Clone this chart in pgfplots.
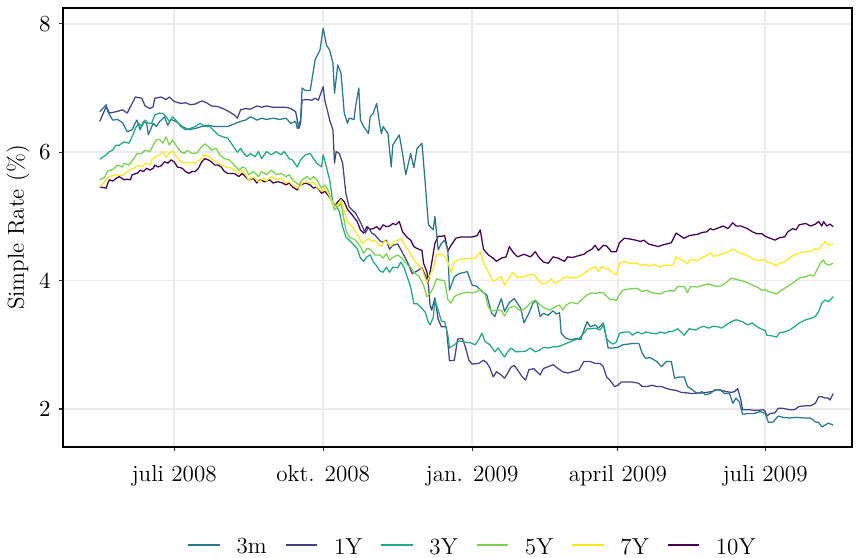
\documentclass[border=0pt]{standalone}
\usepackage{pgfplots}
\pgfplotsset{compat=1.18}
\usepackage{pgfplotstable}

% viridis palette, one colour per maturity
\definecolor{cTenY}{HTML}{440154}
\definecolor{cOneY}{HTML}{414487}
\definecolor{cThreeM}{HTML}{2A788E}
\definecolor{cThreeY}{HTML}{22A884}
\definecolor{cFiveY}{HTML}{7AD151}
\definecolor{cSevenY}{HTML}{FDE725}

% day = days since 1 July 2008, rate in percent
\pgfplotstableread{
day rate
-46 6.63
-42 6.74
-41 6.63
-38 6.50
-35 6.51
-32 6.46
-29 6.32
-26 6.35
-24 6.46
-23 6.50
-21 6.35
-19 6.48
-17 6.45
-16 6.27
-13 6.45
-11 6.40
-9 6.48
-6 6.55
-4 6.42
-2 6.51
1 6.48
5 6.40
9 6.35
13 6.37
17 6.40
21 6.42
25 6.40
29 6.40
33 6.40
37 6.44
41 6.48
44 6.50
47 6.55
49 6.53
51 6.50
54 6.53
57 6.51
61 6.53
65 6.51
69 6.53
72 6.45
75 6.48
76 6.37
78 6.50
79 7.00
81 6.96
84 6.96
87 7.44
90 7.59
92 7.93
94 7.67
96 7.59
98 7.39
99 6.92
101 7.36
103 7.23
105 6.61
107 6.45
108 6.53
111 6.51
112 6.71
114 7.00
115 6.50
117 6.40
120 6.29
121 6.55
123 6.61
125 6.76
127 6.42
128 6.29
129 6.40
132 6.29
134 5.77
135 6.11
139 6.27
141 5.98
143 5.65
146 5.98
148 5.76
150 6.06
153 6.14
155 5.52
157 4.87
160 4.79
161 5.00
163 4.48
165 4.58
167 4.63
169 4.48
170 3.85
173 4.06
176 4.11
181 4.14
184 3.93
187 3.91
190 3.83
193 3.78
196 3.49
198 3.44
200 3.59
202 3.72
204 3.52
207 3.66
210 3.72
214 3.57
216 3.34
219 3.49
222 3.67
224 3.67
226 3.44
228 3.49
231 3.46
234 3.53
236 3.48
238 3.50
239 3.18
242 3.10
245 3.08
249 3.10
251 3.08
253 3.23
255 3.36
257 3.28
260 3.31
262 3.26
265 3.34
266 3.23
268 2.95
271 2.95
274 2.96
277 3.00
280 3.01
283 3.02
287 3.02
289 2.87
291 2.79
294 2.80
298 2.74
301 2.66
304 2.74
307 2.74
309 2.48
312 2.50
315 2.50
317 2.35
320 2.30
323 2.24
326 2.27
328 2.22
331 2.24
334 2.30
337 2.30
340 2.24
343 2.24
345 2.09
347 2.17
349 2.11
351 1.92
355 1.93
358 1.93
362 1.96
365 1.93
367 1.79
370 1.80
373 1.89
376 1.87
380 1.86
384 1.87
389 1.86
393 1.86
396 1.80
398 1.79
400 1.72
402 1.75
404 1.78
407 1.75
}\rateThreeM

\pgfplotstableread{
day rate
-46 6.48
-42 6.71
-40 6.61
-36 6.63
-32 6.66
-29 6.61
-26 6.76
-24 6.86
-20 6.84
-18 6.72
-15 6.68
-13 6.71
-12 6.84
-8 6.86
-5 6.82
-3 6.86
0 6.79
4 6.76
7 6.77
10 6.74
13 6.75
17 6.80
20 6.77
23 6.72
27 6.71
31 6.67
34 6.63
37 6.58
39 6.53
41 6.66
44 6.68
47 6.67
51 6.72
54 6.70
57 6.72
61 6.70
65 6.70
69 6.70
72 6.68
75 6.63
77 6.37
78 6.45
79 6.81
82 6.82
85 6.81
87 6.84
89 6.81
92 7.02
93 6.81
95 6.61
96 6.50
98 6.35
99 5.83
100 6.01
102 5.98
104 5.83
106 5.36
108 5.15
112 5.05
115 4.91
118 4.74
120 4.83
122 4.74
124 4.71
127 4.62
129 4.60
131 4.63
133 4.49
135 4.55
138 4.57
140 4.48
144 4.29
147 4.11
150 4.15
153 4.20
156 4.03
157 3.93
158 3.62
159 3.54
161 3.73
163 3.40
165 3.28
168 3.28
169 3.03
170 2.75
173 2.76
175 3.09
178 3.10
180 2.95
182 2.76
184 2.70
188 2.71
191 2.76
193 2.72
195 2.64
197 2.50
199 2.58
202 2.53
204 2.48
206 2.56
208 2.65
210 2.68
212 2.61
215 2.50
217 2.45
219 2.61
222 2.63
226 2.53
228 2.63
231 2.66
234 2.69
237 2.63
240 2.58
243 2.56
246 2.58
250 2.61
253 2.74
257 2.74
260 2.71
263 2.71
265 2.66
267 2.50
269 2.45
272 2.35
274 2.37
276 2.42
279 2.42
283 2.42
287 2.40
289 2.35
292 2.35
295 2.37
298 2.35
301 2.35
304 2.32
307 2.30
310 2.29
313 2.26
317 2.25
320 2.24
323 2.25
326 2.25
329 2.26
332 2.27
335 2.30
338 2.29
341 2.27
344 2.26
346 2.27
348 2.32
350 2.14
351 1.99
355 1.99
358 1.98
361 1.98
364 1.99
365 1.96
366 1.89
368 1.93
371 1.94
373 2.01
376 2.01
380 1.99
383 1.99
386 2.04
390 2.05
393 2.05
396 2.09
398 2.19
400 2.19
402 2.17
404 2.17
405 2.14
407 2.24
}\rateOneY

\pgfplotstableread{
day rate
-46 5.89
-42 5.96
-40 6.01
-38 6.03
-36 6.11
-34 6.11
-31 6.16
-28 6.14
-26 6.24
-24 6.37
-22 6.45
-20 6.40
-18 6.50
-16 6.45
-14 6.45
-12 6.58
-9 6.61
-7 6.60
-5 6.55
-3 6.48
-1 6.55
1 6.50
4 6.40
7 6.35
10 6.37
13 6.40
16 6.45
19 6.40
22 6.40
24 6.35
27 6.27
30 6.24
33 6.22
36 6.11
39 6.00
41 6.06
43 5.98
45 5.93
47 5.98
50 5.93
52 6.01
54 5.90
57 6.01
60 5.96
63 6.01
66 5.96
68 6.01
71 5.90
73 5.88
76 5.77
78 5.88
81 5.96
84 5.98
86 5.90
88 5.83
91 5.77
92 5.96
94 5.77
96 5.57
98 5.21
100 5.18
102 5.07
104 4.84
106 4.68
110 4.58
113 4.50
115 4.35
117 4.30
119 4.37
121 4.40
123 4.29
125 4.23
127 4.15
129 4.13
131 4.21
133 4.13
135 4.21
138 4.20
140 4.29
142 4.20
146 3.90
148 3.64
150 3.64
153 3.57
155 3.51
157 3.35
158 3.31
160 3.43
161 3.70
163 3.54
165 3.37
167 3.36
169 3.15
170 2.95
173 3.00
176 3.06
180 3.04
183 3.03
186 3.00
188 3.08
190 3.18
192 3.05
195 3.00
198 2.89
200 2.95
204 2.81
206 2.89
208 2.95
211 2.89
217 2.90
220 2.95
223 2.89
226 2.92
228 2.96
231 2.95
234 2.97
237 2.97
240 3.00
243 3.03
246 3.06
250 3.10
253 3.18
255 3.25
257 3.25
260 3.26
263 3.23
265 3.31
267 3.10
269 3.04
271 3.01
273 3.04
275 3.18
278 3.20
281 3.20
283 3.15
286 3.20
289 3.17
291 3.20
295 3.18
298 3.17
300 3.20
303 3.18
305 3.20
308 3.21
311 3.25
315 3.15
318 3.25
322 3.23
324 3.26
327 3.29
330 3.26
333 3.29
336 3.28
338 3.26
341 3.31
344 3.36
347 3.39
351 3.36
354 3.31
357 3.34
360 3.28
363 3.24
365 3.22
366 3.15
369 3.14
372 3.12
374 3.19
377 3.20
380 3.23
383 3.28
386 3.34
390 3.39
393 3.41
396 3.44
398 3.52
400 3.65
402 3.70
404 3.67
407 3.75
}\rateThreeY

\pgfplotstableread{
day rate
-46 5.57
-43 5.61
-41 5.71
-39 5.72
-37 5.75
-35 5.80
-32 5.77
-31 5.83
-28 5.80
-25 5.90
-23 5.98
-20 5.98
-18 6.03
-15 6.01
-13 6.11
-11 6.19
-9 6.20
-7 6.14
-5 6.24
-3 6.11
-1 6.19
1 6.11
4 6.01
6 5.98
8 6.03
11 5.98
14 5.99
17 6.09
19 6.13
21 6.09
23 6.03
26 6.06
28 5.96
31 5.90
34 5.88
37 5.80
40 5.72
42 5.77
44 5.75
46 5.65
49 5.70
52 5.62
54 5.70
57 5.65
60 5.72
63 5.65
66 5.67
69 5.62
71 5.65
73 5.57
77 5.49
79 5.57
82 5.62
84 5.57
86 5.62
88 5.57
91 5.44
93 5.49
95 5.41
97 5.26
99 5.10
101 5.15
103 5.21
106 4.79
108 4.68
112 4.63
115 4.53
117 4.42
119 4.50
121 4.49
124 4.40
127 4.40
129 4.35
131 4.42
133 4.32
135 4.36
138 4.40
141 4.34
144 4.24
146 4.21
148 4.13
151 4.07
154 3.93
156 3.75
158 3.80
160 3.89
162 4.03
164 4.01
167 4.00
169 3.70
171 3.65
173 3.75
176 3.79
181 3.82
184 3.81
187 3.83
189 3.87
192 3.78
194 3.59
196 3.52
198 3.54
202 3.54
204 3.45
207 3.58
210 3.60
214 3.53
217 3.57
220 3.65
223 3.70
226 3.62
229 3.57
232 3.54
235 3.59
238 3.62
240 3.54
242 3.62
245 3.66
249 3.64
252 3.71
255 3.78
258 3.81
260 3.80
262 3.81
265 3.81
267 3.76
269 3.71
271 3.71
273 3.69
275 3.78
277 3.85
281 3.87
286 3.88
289 3.83
292 3.85
295 3.81
298 3.80
300 3.79
303 3.83
306 3.84
309 3.84
311 3.91
315 3.91
317 3.81
319 3.91
323 3.90
327 3.93
330 3.95
332 3.93
335 3.91
338 3.92
341 3.97
344 4.04
347 4.02
350 4.00
354 3.97
357 3.93
360 3.90
363 3.85
365 3.86
367 3.83
370 3.81
372 3.79
374 3.83
377 3.88
380 3.93
383 3.98
386 4.04
390 4.06
393 4.09
395 4.07
397 4.17
399 4.27
401 4.32
402 4.27
404 4.24
407 4.27
}\rateFiveY

\pgfplotstableread{
day rate
-46 5.46
-42 5.57
-40 5.62
-36 5.65
-32 5.63
-29 5.70
-25 5.75
-22 5.80
-20 5.77
-18 5.83
-15 5.80
-14 5.88
-12 5.92
-9 5.96
-7 6.01
-5 5.92
-3 5.99
-1 6.02
1 5.94
4 5.85
7 5.83
10 5.84
13 5.83
16 5.88
18 5.96
21 5.94
24 5.88
26 5.85
29 5.80
32 5.77
35 5.76
37 5.72
40 5.67
42 5.72
44 5.65
46 5.57
49 5.61
52 5.54
55 5.59
57 5.55
60 5.62
63 5.57
66 5.59
69 5.52
71 5.54
73 5.49
77 5.44
79 5.52
82 5.54
84 5.52
86 5.54
88 5.46
91 5.39
93 5.44
95 5.36
97 5.26
99 5.15
101 5.18
103 5.26
105 5.08
107 4.92
110 4.84
112 4.76
114 4.68
116 4.58
118 4.61
120 4.66
122 4.61
124 4.63
126 4.57
128 4.53
130 4.62
132 4.58
134 4.54
136 4.61
138 4.63
140 4.65
142 4.57
145 4.46
147 4.37
149 4.29
151 4.24
153 4.18
155 4.03
156 3.97
158 4.09
160 4.19
162 4.41
165 4.41
167 4.38
169 4.29
171 4.12
173 4.29
176 4.33
180 4.34
183 4.35
185 4.34
187 4.38
189 4.45
191 4.28
194 4.14
197 3.99
200 4.03
202 4.06
204 3.93
207 4.05
209 4.13
212 4.05
216 4.06
219 4.09
222 4.10
224 4.04
227 3.95
230 3.96
233 4.03
235 3.96
238 3.99
240 4.04
243 4.06
246 4.04
250 4.06
253 4.11
255 4.15
258 4.19
260 4.22
262 4.14
264 4.22
266 4.19
268 4.19
270 4.14
273 4.09
275 4.27
278 4.30
281 4.27
286 4.27
288 4.24
291 4.25
294 4.23
297 4.25
300 4.21
303 4.24
308 4.24
310 4.37
312 4.34
317 4.27
319 4.33
323 4.31
326 4.36
329 4.39
331 4.43
333 4.38
336 4.39
339 4.42
342 4.45
345 4.49
348 4.45
351 4.42
355 4.38
358 4.33
361 4.31
364 4.33
366 4.29
369 4.27
372 4.23
374 4.27
377 4.29
380 4.35
383 4.40
386 4.43
390 4.45
393 4.45
396 4.50
398 4.48
400 4.55
402 4.61
404 4.55
407 4.57
}\rateSevenY

\pgfplotstableread{
day rate
-46 5.46
-42 5.44
-41 5.52
-40 5.57
-38 5.55
-36 5.59
-34 5.62
-31 5.57
-29 5.58
-27 5.57
-26 5.65
-23 5.67
-21 5.72
-19 5.70
-17 5.75
-15 5.72
-13 5.75
-12 5.80
-10 5.77
-8 5.79
-6 5.85
-4 5.83
-2 5.88
0 5.85
2 5.77
5 5.75
7 5.70
9 5.67
11 5.70
13 5.70
15 5.75
17 5.85
19 5.90
21 5.88
23 5.85
25 5.80
27 5.80
29 5.77
31 5.70
33 5.67
37 5.67
40 5.62
42 5.67
44 5.62
46 5.57
49 5.59
51 5.52
53 5.57
56 5.54
59 5.57
61 5.52
64 5.54
67 5.52
69 5.49
71 5.52
73 5.46
76 5.41
78 5.49
81 5.52
84 5.49
86 5.44
88 5.46
91 5.36
93 5.39
95 5.33
97 5.26
99 5.15
101 5.23
103 5.28
105 5.23
107 5.11
110 5.02
113 4.92
115 4.79
117 4.74
119 4.84
121 4.80
123 4.81
125 4.84
127 4.79
129 4.87
131 4.84
133 4.85
135 4.89
137 4.87
139 4.92
141 4.76
144 4.67
146 4.63
148 4.53
150 4.50
153 4.47
154 4.27
156 4.14
157 3.99
159 4.27
161 4.58
163 4.69
165 4.69
167 4.70
169 4.46
171 4.55
174 4.66
177 4.68
181 4.68
184 4.68
187 4.70
189 4.79
191 4.49
194 4.40
197 4.35
199 4.30
202 4.35
205 4.37
207 4.53
209 4.45
212 4.37
216 4.41
220 4.37
223 4.45
225 4.37
228 4.29
231 4.27
234 4.37
237 4.35
241 4.30
243 4.37
246 4.36
250 4.39
253 4.41
255 4.45
258 4.49
260 4.55
262 4.47
265 4.55
267 4.54
270 4.45
273 4.45
275 4.59
278 4.66
281 4.65
285 4.63
288 4.61
290 4.63
293 4.57
296 4.55
299 4.53
301 4.55
304 4.57
307 4.59
310 4.74
313 4.69
315 4.66
318 4.70
320 4.71
323 4.72
326 4.75
329 4.76
331 4.81
333 4.79
336 4.82
339 4.85
342 4.81
345 4.90
347 4.85
350 4.85
354 4.81
357 4.76
360 4.73
363 4.73
365 4.69
368 4.66
371 4.63
374 4.67
377 4.68
379 4.76
382 4.81
384 4.79
386 4.87
390 4.89
393 4.85
396 4.88
398 4.92
400 4.85
401 4.92
403 4.85
405 4.88
407 4.84
}\rateTenY

\begin{document}
\begin{tikzpicture}
\useasboundingbox (-30pt,-52.38pt) rectangle (379.52pt,212.86pt);
\begin{axis}[
  scale only axis,
  width=375.71pt, height=209.05pt,
  xmin=-68.7, xmax=418.6,
  ymin=1.408, ymax=8.246,
  axis line style={black, line width=0.5pt},
  xmajorgrids, ymajorgrids,
  major grid style={color=black!8, line width=0.7pt},
  xtick={0,92,184,274,365},
  xticklabels={juli 2008, okt. 2008, jan. 2009, april 2009, juli 2009},
  ytick={2,4,6,8},
  xtick pos=bottom, ytick pos=left,
  tick align=outside,
  major tick length=2pt,
  tick style={black!80, line width=0.5pt},
  tick label style={font=\fontsize{11}{13}\selectfont},
  xticklabel style={anchor=base, inner sep=0pt, yshift=-14.3pt},
  yticklabel style={anchor=east, inner sep=0pt, xshift=-3.7pt},
  ylabel={Simple Rate (\%)},
  ylabel style={at={([xshift=-21.4pt]rel axis cs:0,0.5)}, anchor=center, font=\fontsize{11}{13}\selectfont},
  legend columns=6,
  legend style={draw=none, fill=none, at={(rel axis cs:0.157,-0.2296)}, anchor=west,
    inner sep=0pt, font=\fontsize{11}{13}\selectfont,
    nodes={inner sep=0pt},
    /tikz/every odd column/.append style={column sep=7.5pt},
    /tikz/every even column/.append style={column sep=8.5pt}},
  legend image code/.code={\draw[#1, line width=1pt] (0pt,1.5pt) -- (15pt,1.5pt);},
  every axis plot/.append style={line width=0.6pt, line join=round},
]
\addplot[cTenY, forget plot] table[x=day, y=rate] {\rateTenY};
\addplot[cOneY, forget plot] table[x=day, y=rate] {\rateOneY};
\addplot[cThreeM, forget plot] table[x=day, y=rate] {\rateThreeM};
\addplot[cThreeY, forget plot] table[x=day, y=rate] {\rateThreeY};
\addplot[cFiveY, forget plot] table[x=day, y=rate] {\rateFiveY};
\addplot[cSevenY, forget plot] table[x=day, y=rate] {\rateSevenY};

\addlegendimage{cThreeM}\addlegendentry{3m}
\addlegendimage{cOneY}\addlegendentry{1Y}
\addlegendimage{cThreeY}\addlegendentry{3Y}
\addlegendimage{cFiveY}\addlegendentry{5Y}
\addlegendimage{cSevenY}\addlegendentry{7Y}
\addlegendimage{cTenY}\addlegendentry{10Y}
\end{axis}
\end{tikzpicture}
\end{document}
